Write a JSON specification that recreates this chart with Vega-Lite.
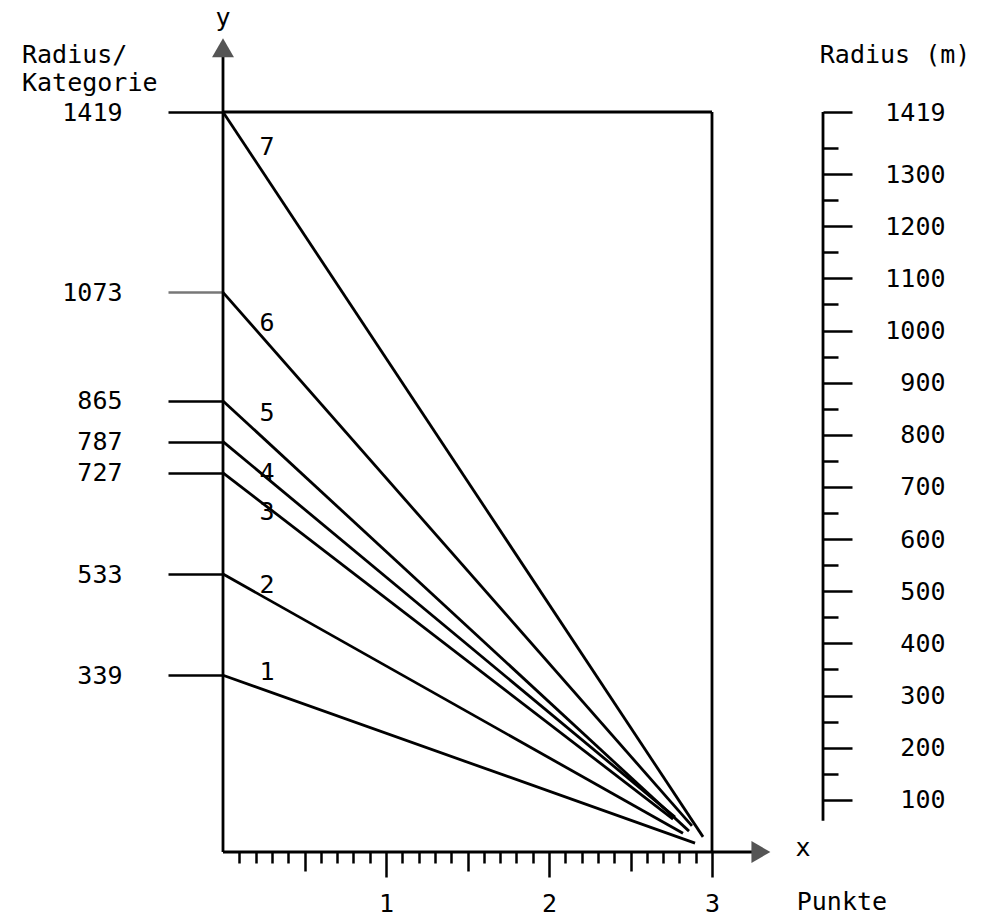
{
  "$schema": "https://vega.github.io/schema/vega-lite/v6.json",
  "width": 489,
  "height": 740,
  "autosize": {"type": "none"},
  "padding": {"left": 223, "top": 112, "right": 269, "bottom": 65},
  "background": "white",
  "config": {"view": {"stroke": null}, "axis": {"grid": false}},
  "datasets": {
    "lines": [
      {"id": 1, "x": 0, "y": 339}, {"id": 1, "x": 2.896, "y": 17},
      {"id": 2, "x": 0, "y": 533}, {"id": 2, "x": 2.822, "y": 36},
      {"id": 3, "x": 0, "y": 727}, {"id": 3, "x": 2.761, "y": 63},
      {"id": 4, "x": 0, "y": 787}, {"id": 4, "x": 2.773, "y": 67},
      {"id": 5, "x": 0, "y": 865}, {"id": 5, "x": 2.859, "y": 40},
      {"id": 6, "x": 0, "y": 1073}, {"id": 6, "x": 2.877, "y": 50},
      {"id": 7, "x": 0, "y": 1419}, {"id": 7, "x": 2.945, "y": 29}
    ],
    "rules": [
      {"x": 0, "x2": 0, "y": 0, "y2": 1530},
      {"x": 0, "x2": 3.25, "y": 0, "y2": 0},
      {"x": 0, "x2": 3, "y": 1419, "y2": 1419},
      {"x": 3, "x2": 3, "y": 0, "y2": 1419},
      {"x": 3.681, "x2": 3.681, "y": 60, "y2": 1419}
    ],
    "arrows": [
      {"x": 0, "y": 1542, "dir": "up"},
      {"x": 3.30, "y": 0, "dir": "right"}
    ],
    "centerText": [
      {"x": 0, "y": 1599, "t": "y"},
      {"x": 3.558, "y": 8, "t": "x"},
      {"x": 4.123, "y": 1528, "t": "Radius (m)"},
      {"x": 0.27, "y": 1352, "t": "7"},
      {"x": 0.27, "y": 1014, "t": "6"},
      {"x": 0.27, "y": 842, "t": "5"},
      {"x": 0.27, "y": 727, "t": "4"},
      {"x": 0.27, "y": 652, "t": "3"},
      {"x": 0.27, "y": 512, "t": "2"},
      {"x": 0.27, "y": 345, "t": "1"}
    ],
    "leftText": [
      {"x": -1.233, "y": 1528, "t": "Radius/"},
      {"x": -1.233, "y": 1475, "t": "Kategorie"},
      {"x": 3.52, "y": -96, "t": "Punkte"}
    ]
  },
  "resolve": {"axis": {"x": "independent", "y": "independent"}},
  "layer": [
    {
      "data": {"name": "lines"},
      "mark": {"type": "line", "color": "black", "strokeWidth": 2.8},
      "encoding": {
        "x": {"field": "x", "type": "quantitative",
          "scale": {"domain": [0, 3], "nice": false, "zero": false},
          "axis": {"orient": "bottom", "values": [1, 2, 3], "format": "d", "tickSize": 25, "tickWidth": 2.5, "tickColor": "black",
            "domain": false, "grid": false, "labelFont": "DejaVu Sans Mono", "labelFontSize": 25, "labelColor": "black",
            "labelPadding": 26, "labelBaseline": "middle", "labelFlush": false, "labelOverlap": false, "title": null}},
        "y": {"field": "y", "type": "quantitative",
          "scale": {"domain": [0, 1419], "nice": false, "zero": false},
          "axis": {"orient": "left", "values": [339, 533, 727, 787, 865, 1073, 1419], "format": "d", "tickSize": 55, "tickWidth": 2.5,
            "tickColor": {"condition": {"test": "datum.value == 1073", "value": "#777777"}, "value": "black"},
            "domain": false, "grid": false, "labelFont": "DejaVu Sans Mono", "labelFontSize": 25, "labelColor": "black",
            "labelPadding": 46, "labelAlign": "right", "labelBaseline": "middle", "labelFlush": false, "labelOverlap": false, "title": null}},
        "detail": {"field": "id", "type": "nominal"}
      }
    },
    {
      "data": {"name": "rules"},
      "mark": {"type": "rule", "color": "black", "strokeWidth": 2.8},
      "encoding": {
        "x": {"field": "x", "type": "quantitative",
          "scale": {"domain": [0, 3], "nice": false, "zero": false},
          "axis": {"orient": "bottom", "values": [0.5, 1.5, 2.5], "tickSize": 19, "tickWidth": 2.5, "tickColor": "black",
            "domain": false, "grid": false, "labels": false, "title": null}},
        "x2": {"field": "x2"},
        "y": {"field": "y", "type": "quantitative",
          "scale": {"domain": [0, 1419], "nice": false, "zero": false},
          "axis": {"orient": "right", "offset": 111, "values": [100, 200, 300, 400, 500, 600, 700, 800, 900, 1000, 1100, 1200, 1300, 1419],
            "format": "d", "tickSize": 29, "tickWidth": 2.5, "tickColor": "black", "domain": false, "grid": false,
            "labelFont": "DejaVu Sans Mono", "labelFontSize": 25, "labelColor": "black", "labelPadding": 93,
            "labelAlign": "right", "labelBaseline": "middle", "labelFlush": false, "labelOverlap": false, "title": null}},
        "y2": {"field": "y2"}
      }
    },
    {
      "data": {"name": "arrows"},
      "mark": {"type": "point", "filled": true, "color": "#555555", "size": 480, "opacity": 1},
      "encoding": {
        "x": {"field": "x", "type": "quantitative",
          "scale": {"domain": [0, 3], "nice": false, "zero": false},
          "axis": {"orient": "bottom", "values": [0.1, 0.2, 0.3, 0.4, 0.6, 0.7, 0.8, 0.9, 1.1, 1.2, 1.3, 1.4, 1.6, 1.7, 1.8, 1.9, 2.1, 2.2, 2.3, 2.4, 2.6, 2.7, 2.8, 2.9],
            "tickSize": 11, "tickWidth": 2.5, "tickColor": "black", "domain": false, "grid": false, "labels": false, "title": null}},
        "y": {"field": "y", "type": "quantitative",
          "scale": {"domain": [0, 1419], "nice": false, "zero": false},
          "axis": {"orient": "right", "offset": 111, "values": [150, 250, 350, 450, 550, 650, 750, 850, 950, 1050, 1150, 1250, 1350],
            "tickSize": 15, "tickWidth": 2.5, "tickColor": "black", "domain": false, "grid": false, "labels": false, "title": null}},
        "shape": {"field": "dir", "type": "nominal", "scale": {"domain": ["up", "right"], "range": ["triangle-up", "triangle-right"]}, "legend": null}
      }
    },
    {
      "data": {"name": "centerText"},
      "mark": {"type": "text", "font": "DejaVu Sans Mono", "fontSize": 25, "color": "black", "align": "center", "baseline": "middle"},
      "encoding": {
        "x": {"field": "x", "type": "quantitative", "scale": {"domain": [0, 3], "nice": false, "zero": false}, "axis": null},
        "y": {"field": "y", "type": "quantitative", "scale": {"domain": [0, 1419], "nice": false, "zero": false}, "axis": null},
        "text": {"field": "t"}
      }
    },
    {
      "data": {"name": "leftText"},
      "mark": {"type": "text", "font": "DejaVu Sans Mono", "fontSize": 25, "color": "black", "align": "left", "baseline": "middle"},
      "encoding": {
        "x": {"field": "x", "type": "quantitative", "scale": {"domain": [0, 3], "nice": false, "zero": false}, "axis": null},
        "y": {"field": "y", "type": "quantitative", "scale": {"domain": [0, 1419], "nice": false, "zero": false}, "axis": null},
        "text": {"field": "t"}
      }
    }
  ]
}
